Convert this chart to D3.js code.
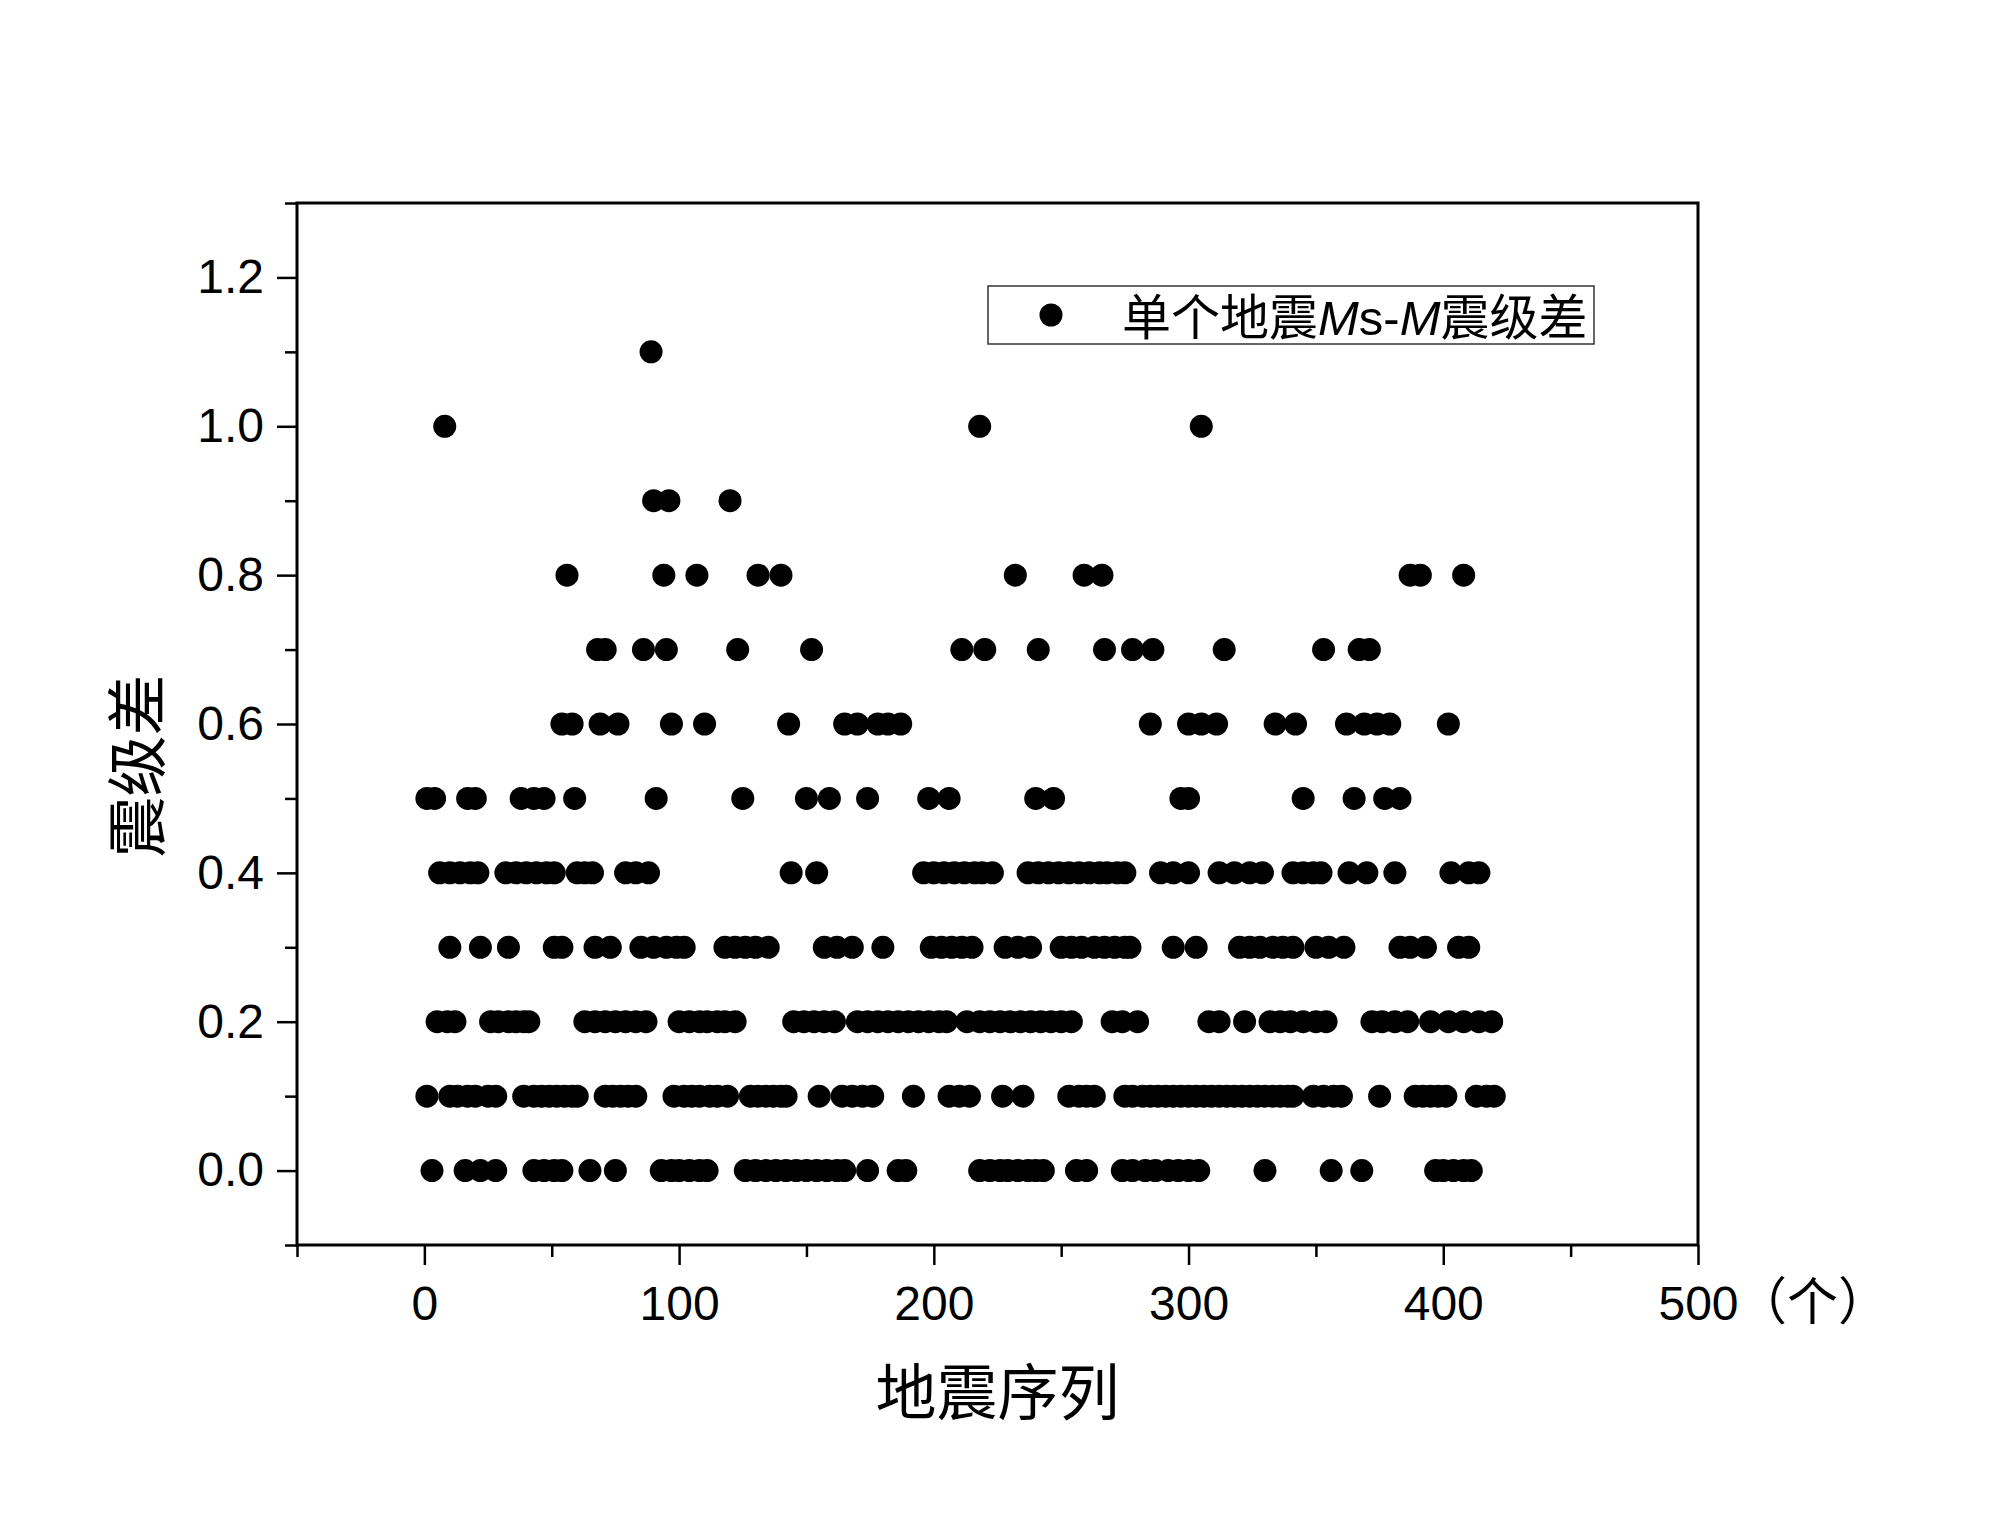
<!DOCTYPE html>
<html>
<head>
<meta charset="utf-8">
<script src="https://cdn.jsdelivr.net/npm/d3@7"></script>
<style>
  body { margin: 0; background: #fff; }
  svg { display: block; }
</style>
</head>
<body>
<svg id="chart"></svg>
<script>
// magnitude-difference levels and the sequence numbers sitting on each level
const levels = [0.0, 0.1, 0.2, 0.3, 0.4, 0.5, 0.6, 0.7, 0.8, 0.9, 1.0, 1.1];
const seq00 = [3, 16, 22, 28, 43, 47, 51, 54, 65, 75, 93, 97, 100, 104, 108, 111, 126, 130, 134, 138, 142, 146, 150, 154, 158, 162, 165, 174, 186, 189, 218, 222, 226, 229, 233, 237, 240, 243, 256, 260, 274, 278, 283, 287, 292, 296, 300, 304, 330, 356, 368, 397, 400, 404, 408, 411];
const seq01 = [1, 10, 13, 17, 20, 25, 28, 39, 43, 46, 49, 52, 55, 58, 60, 71, 74, 77, 80, 83, 98, 102, 105, 108, 112, 115, 119, 128, 131, 134, 137, 140, 142, 155, 164, 168, 172, 176, 192, 206, 210, 214, 227, 235, 253, 257, 260, 263, 275, 278, 282, 285, 288, 291, 294, 297, 300, 303, 306, 309, 312, 315, 318, 321, 324, 327, 330, 333, 336, 339, 341, 349, 353, 357, 360, 375, 389, 392, 395, 398, 401, 413, 417, 420];
const seq02 = [5, 9, 12, 26, 29, 33, 36, 39, 41, 63, 67, 71, 75, 79, 83, 87, 100, 104, 108, 111, 115, 118, 122, 145, 149, 153, 157, 161, 170, 174, 178, 182, 186, 190, 194, 198, 202, 205, 213, 218, 222, 226, 230, 234, 238, 242, 246, 250, 254, 270, 274, 280, 308, 312, 322, 332, 336, 340, 345, 350, 354, 372, 376, 381, 386, 395, 402, 408, 414, 419];
const seq03 = [10, 22, 33, 51, 54, 67, 73, 85, 90, 95, 99, 102, 118, 122, 126, 130, 135, 157, 162, 168, 180, 199, 203, 207, 211, 215, 228, 233, 238, 250, 254, 258, 263, 267, 271, 275, 277, 294, 303, 320, 324, 328, 333, 337, 341, 350, 355, 361, 383, 387, 393, 406, 410];
const seq04 = [6, 10, 14, 18, 21, 32, 36, 40, 44, 48, 51, 60, 63, 66, 79, 83, 88, 144, 154, 196, 200, 204, 208, 212, 216, 219, 223, 237, 241, 245, 249, 253, 257, 261, 265, 268, 272, 275, 289, 294, 300, 312, 318, 324, 329, 341, 345, 349, 352, 363, 370, 381, 403, 410, 414];
const seq05 = [1, 4, 17, 20, 38, 43, 47, 59, 91, 125, 150, 159, 174, 198, 206, 240, 247, 297, 300, 345, 365, 377, 383];
const seq06 = [54, 58, 69, 76, 97, 110, 143, 165, 170, 178, 182, 187, 285, 300, 305, 311, 334, 342, 362, 369, 374, 379, 402];
const seq07 = [68, 71, 86, 95, 123, 152, 211, 220, 241, 267, 278, 286, 314, 353, 367, 371];
const seq08 = [56, 94, 107, 131, 140, 232, 259, 266, 387, 391, 408];
const seq09 = [90, 96, 120];
const seq10 = [8, 218, 305];
const seq11 = [89];
const seqByLevel = [seq00, seq01, seq02, seq03, seq04, seq05, seq06, seq07, seq08, seq09, seq10, seq11];

const xMajor = [0, 100, 200, 300, 400, 500];
const xMinor = [-50, 50, 150, 250, 350, 450];
const yMajor = [0.0, 0.2, 0.4, 0.6, 0.8, 1.0, 1.2];
const yMinor = [-0.1, 0.1, 0.3, 0.5, 0.7, 0.9, 1.1, 1.3];

const xTitle = "地震序列";
const yTitle = "震级差";
const xUnit = "（个）";

const width = 2000, height = 1528;
const plot = { left: 297, right: 1698, top: 203, bottom: 1245 };

const points = [];
levels.forEach((lv, i) => seqByLevel[i].forEach(s => points.push({ seq: s, diff: lv })));

const svg = d3.select("#chart")
  .attr("width", width)
  .attr("height", height)
  .style("background", "#fff");

const x = d3.scaleLinear().domain([-50, 500]).range([plot.left, plot.right]);
const y = d3.scaleLinear().domain([-0.1, 1.3]).range([plot.bottom, plot.top]);

const tickFont = "'Liberation Sans', Arial, sans-serif";
const cjkFont = "'Noto Sans CJK SC', 'Noto Sans CJK JP', sans-serif";

// minor ticks
svg.append("g")
  .attr("transform", `translate(0,${plot.bottom})`)
  .call(d3.axisBottom(x).tickValues(xMinor).tickSize(12).tickFormat(""))
  .call(g => g.select(".domain").remove())
  .call(g => g.selectAll("line").attr("stroke-width", 2.5));

svg.append("g")
  .attr("transform", `translate(${plot.left},0)`)
  .call(d3.axisLeft(y).tickValues(yMinor).tickSize(12).tickFormat(""))
  .call(g => g.select(".domain").remove())
  .call(g => g.selectAll("line").attr("stroke-width", 2.5));

// major ticks with labels
svg.append("g")
  .attr("transform", `translate(0,${plot.bottom})`)
  .call(d3.axisBottom(x).tickValues(xMajor).tickSize(20).tickPadding(21).tickFormat(d3.format("d")))
  .call(g => g.select(".domain").remove())
  .call(g => g.selectAll("line").attr("stroke-width", 2.5))
  .call(g => g.selectAll("text")
    .attr("fill", "#000")
    .style("font-family", tickFont)
    .style("font-size", "48px"));

svg.append("g")
  .attr("transform", `translate(${plot.left},0)`)
  .call(d3.axisLeft(y).tickValues(yMajor).tickSize(20).tickPadding(13).tickFormat(d3.format(".1f")))
  .call(g => g.select(".domain").remove())
  .call(g => g.selectAll("line").attr("stroke-width", 2.5))
  .call(g => g.selectAll("text")
    .attr("fill", "#000")
    .style("font-family", tickFont)
    .style("font-size", "48px"));

// unit after the last x tick
svg.append("text")
  .attr("x", x(500) + 38)
  .attr("y", plot.bottom + 20 + 21 + 0.71 * 48)
  .style("font-family", cjkFont)
  .style("font-size", "51px")
  .text(xUnit);

// frame
svg.append("rect")
  .attr("x", plot.left)
  .attr("y", plot.top)
  .attr("width", plot.right - plot.left)
  .attr("height", plot.bottom - plot.top)
  .attr("fill", "none")
  .attr("stroke", "#000")
  .attr("stroke-width", 3);

// points
svg.append("g")
  .selectAll("circle")
  .data(points)
  .join("circle")
  .attr("cx", d => x(d.seq))
  .attr("cy", d => y(d.diff))
  .attr("r", 11.5)
  .attr("fill", "#000");

// axis titles
svg.append("text")
  .attr("x", (plot.left + plot.right) / 2)
  .attr("y", 1415)
  .attr("text-anchor", "middle")
  .style("font-family", cjkFont)
  .style("font-size", "61px")
  .text(xTitle);

svg.append("text")
  .attr("transform", "translate(160,766) rotate(-90)")
  .attr("text-anchor", "middle")
  .style("font-family", cjkFont)
  .style("font-size", "61px")
  .text(yTitle);

// legend
const legend = svg.append("g");
legend.append("rect")
  .attr("x", 988)
  .attr("y", 286)
  .attr("width", 606)
  .attr("height", 58)
  .attr("fill", "#fff")
  .attr("stroke", "#333")
  .attr("stroke-width", 1.5);
legend.append("circle")
  .attr("cx", 1051)
  .attr("cy", 315)
  .attr("r", 11.5)
  .attr("fill", "#000");
const lt = legend.append("text")
  .attr("x", 1122)
  .attr("y", 335)
  .style("font-family", "'Liberation Sans', Arial, 'Noto Sans CJK SC', sans-serif")
  .style("font-size", "49px");
lt.append("tspan").style("font-family", cjkFont).text("单个地震");
lt.append("tspan").style("font-style", "italic").text("M");
lt.append("tspan").text("s-");
lt.append("tspan").style("font-style", "italic").text("M");
lt.append("tspan").style("font-family", cjkFont).text("震级差");
</script>
</body>
</html>
